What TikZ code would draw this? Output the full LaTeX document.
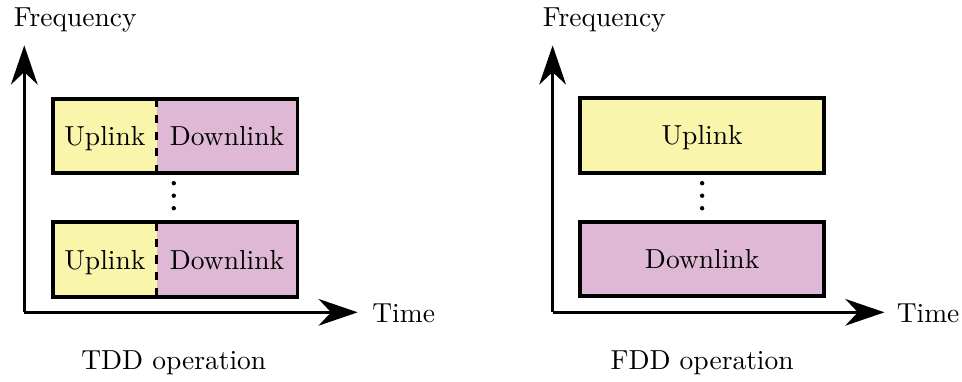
\documentclass[tikz,border=0pt]{standalone}
\usepackage{tikz}
\usepackage{xcolor}
\usetikzlibrary{arrows.meta,positioning}

\definecolor{upfill}{RGB}{249,245,170}
\definecolor{downfill}{RGB}{222,184,213}

\begin{document}
\begin{tikzpicture}[
    axis/.style={line width=1.2pt,-{Stealth[length=5mm,width=3.4mm,inset=1.6mm]}},
    half/.style={minimum height=0.95cm,inner sep=0pt,outer sep=0pt,text depth=0pt},
    band/.style={draw,line width=1.4pt,minimum width=3.12cm,minimum height=0.95cm,inner sep=0pt,text depth=0pt},
    border/.style={line width=1.4pt},
    split/.style={dashed,line width=0.8pt}
]
    \useasboundingbox (0,0) rectangle (12.29,4.87);

    % TDD axes
    \coordinate (oT) at (0.31,0.88);
    \coordinate (fT) at (0.31,4.29);
    \coordinate (tT) at (4.57,0.88);
    \draw[axis] (oT) -- (fT);
    \draw[axis] (oT) -- (tT);
    \node[anchor=west,inner sep=0pt] (freqT) at (0.17,4.61) {Frequency};
    \node[anchor=west,inner sep=0pt] (timeT) at (4.75,0.87) {Time};

    % TDD slots
    \node[half,fill=upfill,minimum width=1.32cm,anchor=north west] (ulA) at (0.68,3.61) {Uplink};
    \node[half,fill=downfill,minimum width=1.80cm,right=0pt of ulA] (dlA) {Downlink};
    \draw[border] (ulA.north west) rectangle (dlA.south east);
    \draw[split] (ulA.north east) -- (ulA.south east);

    \node[half,fill=upfill,minimum width=1.32cm,anchor=north west] (ulB) at (0.68,2.03) {Uplink};
    \node[half,fill=downfill,minimum width=1.80cm,right=0pt of ulB] (dlB) {Downlink};
    \draw[border] (ulB.north west) rectangle (dlB.south east);
    \draw[split] (ulB.north east) -- (ulB.south east);

    \coordinate (dotsT) at (2.22,2.37);
    \foreach \k in {-1,0,1}
        \fill (dotsT) ++(0,0.16*\k) circle (0.8pt);
    \node (capT) at (2.22,0.24) {TDD operation};

    % FDD axes
    \coordinate (oF) at (7.06,0.88);
    \coordinate (fF) at (7.06,4.29);
    \coordinate (tF) at (11.30,0.88);
    \draw[axis] (oF) -- (fF);
    \draw[axis] (oF) -- (tF);
    \node[anchor=west,inner sep=0pt] (freqF) at (6.93,4.61) {Frequency};
    \node[anchor=west,inner sep=0pt] (timeF) at (11.45,0.87) {Time};

    % FDD bands
    \node[band,fill=upfill] (ulF) at (8.97,3.14) {Uplink};
    \node[band,fill=downfill] (dlF) at (8.97,1.56) {Downlink};

    \coordinate (dotsF) at (8.97,2.37);
    \foreach \k in {-1,0,1}
        \fill (dotsF) ++(0,0.16*\k) circle (0.8pt);
    \node (capF) at (8.97,0.24) {FDD operation};
\end{tikzpicture}
\end{document}
